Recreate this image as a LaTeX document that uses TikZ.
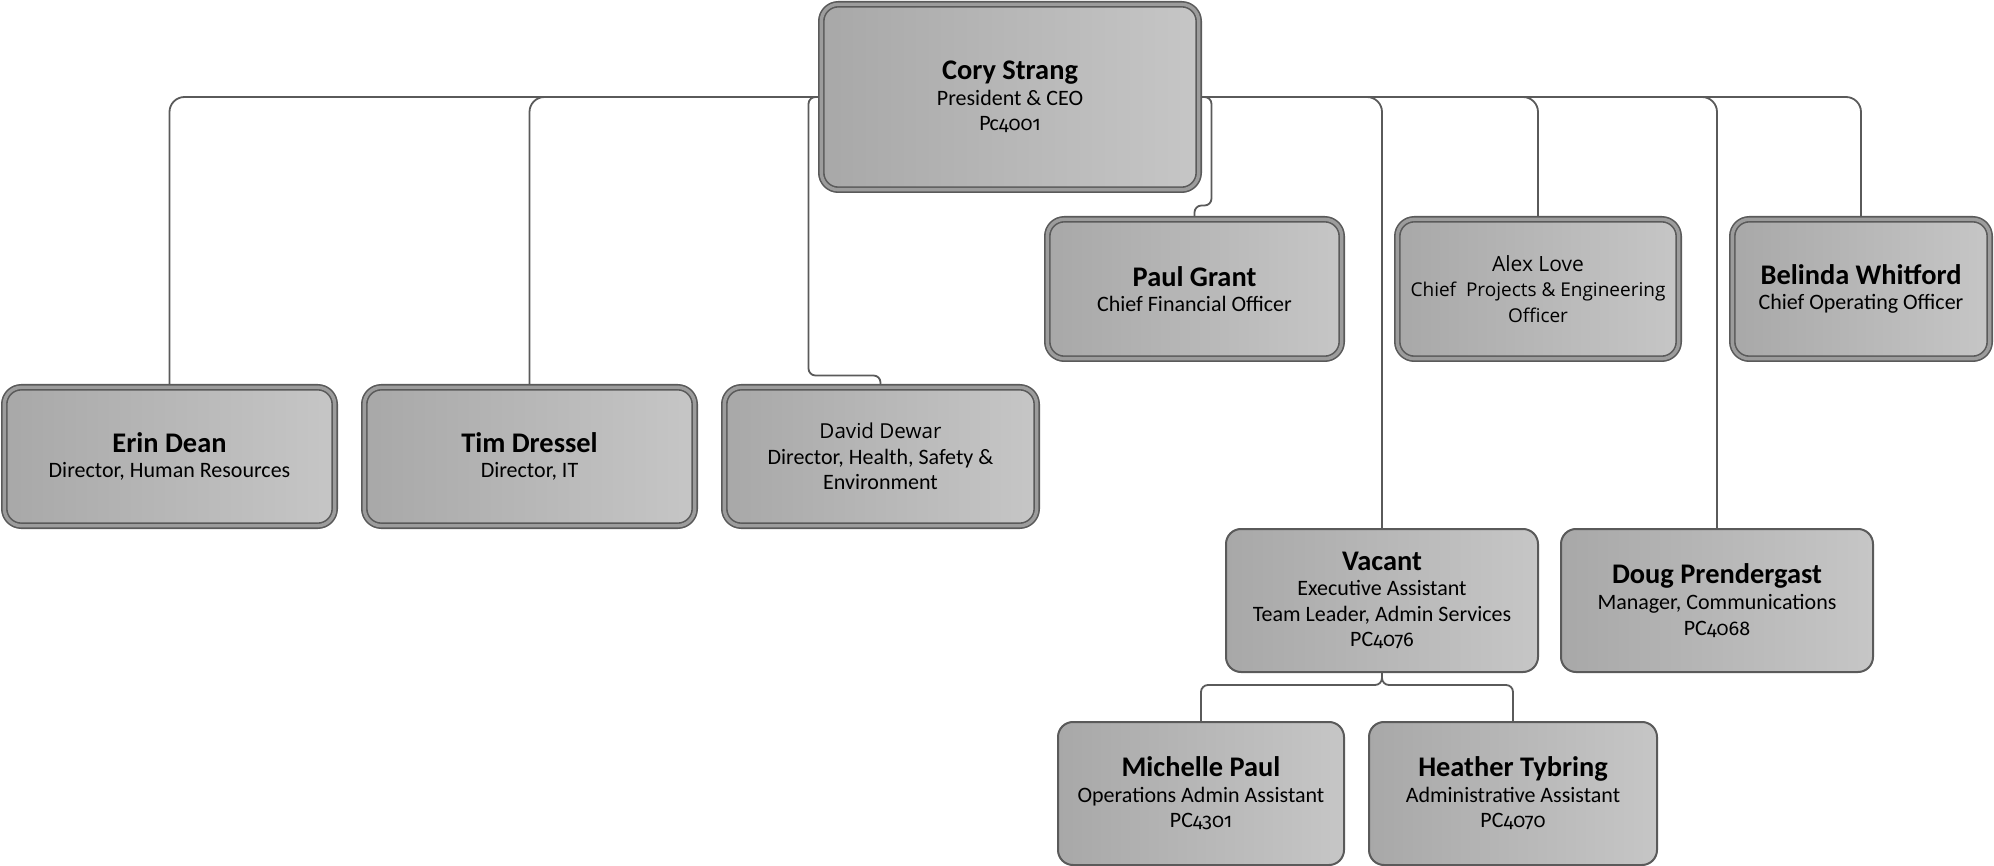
\documentclass[tikz,border=0pt]{standalone}
\usepackage{fontspec}
\setmainfont{Carlito}
\newfontfamily\segoe{Open Sans}
\newfontfamily\oldfig{Fira Sans}[Numbers=OldStyle, Scale=0.9]
\usetikzlibrary{backgrounds}

\definecolor{lineGray}{HTML}{5A5A5A}
\definecolor{boxDark}{HTML}{A8A8A8}
\definecolor{boxLight}{HTML}{C6C6C6}

\newcommand{\nm}[1]{{\bfseries\fontsize{14.2}{15.5}\selectfont #1}}
\newcommand{\pcno}[1]{{\oldfig #1}}

\begin{document}
\begin{tikzpicture}[x=0.5pt, y=-0.5pt,
    box/.style={draw=lineGray, line width=1pt, rounded corners=7.5pt,
      left color=boxDark, right color=boxLight, align=center, inner sep=0pt,
      font=\fontsize{11}{12.8}\selectfont},
    sbox/.style 2 args={box, minimum width=#1*0.5pt-1pt, minimum height=#2*0.5pt-1pt},
    dbox/.style 2 args={box, line width=0.8pt, double=boxDark!85!lineGray,
      double distance=1.7pt, rounded corners=8.5pt,
      minimum width=#1*0.5pt-3.3pt, minimum height=#2*0.5pt-3.3pt},
    conn/.style={draw=lineGray, line width=0.9pt, rounded corners=7.5pt},
    jog/.style={conn, rounded corners=3.5pt}]
  \useasboundingbox (0,0) rectangle (1994,866);

  \node[dbox={384}{192}] (ceo) at (1010,97) {\nm{Cory Strang}\\President \& CEO\\P\kern-0.5pt c\pcno{4001}};

  \node[dbox={337}{145}] (erin) at (169.5,456.5) {\nm{Erin Dean}\\Director, Human Resources};
  \node[dbox={337}{145}] (tim) at (529.5,456.5) {\nm{Tim Dressel}\\Director, IT};
  \node[dbox={319}{145}] (david) at (880.5,456.5)
    {{\segoe\fontsize{10.3}{13}\selectfont David Dewar}\\Director, Health, Safety \&\\Environment};

  \node[dbox={301}{146}] (paul) at (1194.5,289) {\nm{Paul Grant}\\Chief Financial Officer};
  \node[dbox={288}{146}, font=\segoe\fontsize{9.5}{12.8}\selectfont] (alex) at (1538,289)
    {{\fontsize{10.5}{12.8}\selectfont Alex Love}\\Chief~ Projects \& Engineering\\Officer};
  \node[dbox={264}{146}] (belinda) at (1861,289) {\nm{Belinda Whitford}\\Chief Operating Officer};

  \node[sbox={314}{145}] (vacant) at (1382,600.5)
    {\nm{Vacant}\\Executive Assistant\\Team Leader, Admin Services\\PC\pcno{4076}};
  \node[sbox={314}{145}] (doug) at (1717,600.5)
    {\nm{Doug Prendergast}\\Manager, Communications\\PC\pcno{4068}};

  \node[sbox={288}{145}] (michelle) at (1201,793.5)
    {\nm{Michelle Paul}\\Operations Admin Assistant\\PC\pcno{4301}};
  \node[sbox={290}{145}] (heather) at (1513,793.5)
    {\nm{Heather Tybring}\\Administrative Assistant\\PC\pcno{4070}};

  \coordinate (dj) at ([xshift=-6pt,yshift=5.5pt]ceo.west |- david.north);
  \coordinate (pj) at ([xshift=6pt,yshift=6.5pt]ceo.east |- paul.north);
  \coordinate (vj) at ([yshift=-6pt]vacant.south);

  \begin{scope}[on background layer]
    \draw[conn] (ceo.center) -| (erin.north);
    \draw[conn] (ceo.center) -| (tim.north);
    \draw[jog] (ceo.center) -| (dj) -| (david.north);
    \draw[jog] (ceo.center) -| (pj) -| (paul.north);
    \draw[conn] (ceo.center) -| (vacant.north);
    \draw[conn] (ceo.center) -| (alex.north);
    \draw[conn] (ceo.center) -| (doug.north);
    \draw[conn] (ceo.center) -| (belinda.north);
    % vacant's team
    \draw[jog] (vacant.south) -- (vj) -| (michelle.north);
    \draw[jog] (vacant.south) -- (vj) -| (heather.north);
  \end{scope}
\end{tikzpicture}
\end{document}
